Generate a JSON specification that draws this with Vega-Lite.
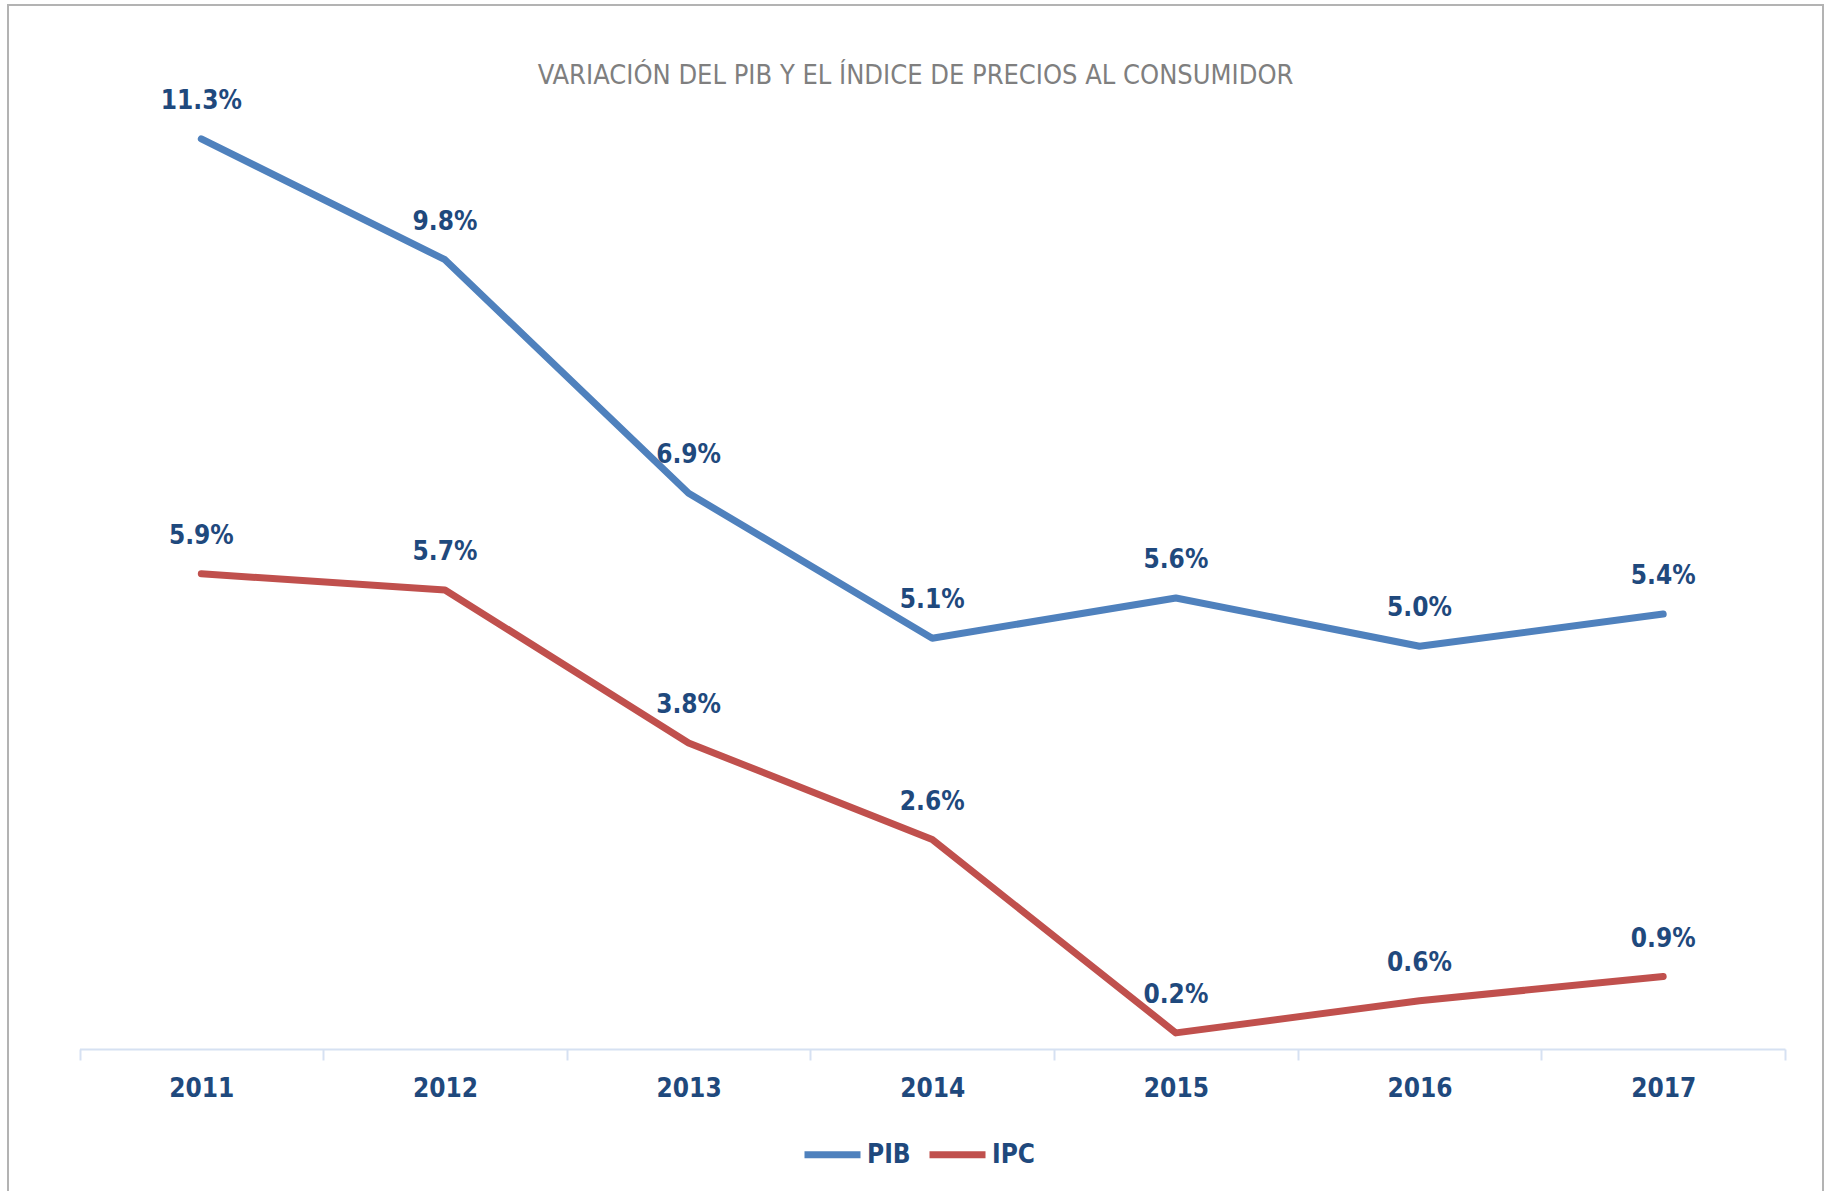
{
  "$schema": "https://vega.github.io/schema/vega-lite/v6.json",
  "autosize": {"type": "none"},
  "width": 1815,
  "height": 1200,
  "padding": {"left": 8, "top": 5, "right": 10, "bottom": 0},
  "background": "white",
  "config": {
    "view": {"stroke": "#B3B3B3", "strokeWidth": 2},
    "font": "DejaVu Sans Condensed, sans-serif"
  },
  "title": {
    "text": "VARIACIÓN DEL PIB Y EL ÍNDICE DE PRECIOS AL CONSUMIDOR",
    "font": "DejaVu Sans Condensed, sans-serif",
    "fontSize": 27,
    "fontWeight": "normal",
    "color": "#7F7F7F",
    "anchor": "middle",
    "frame": "group",
    "offset": -85
  },
  "data": {
    "values": [
      {"year": "2011", "serie": "PIB", "value": 0.113},
      {"year": "2012", "serie": "PIB", "value": 0.098},
      {"year": "2013", "serie": "PIB", "value": 0.069},
      {"year": "2014", "serie": "PIB", "value": 0.051},
      {"year": "2015", "serie": "PIB", "value": 0.056},
      {"year": "2016", "serie": "PIB", "value": 0.050},
      {"year": "2017", "serie": "PIB", "value": 0.054},
      {"year": "2011", "serie": "IPC", "value": 0.059},
      {"year": "2012", "serie": "IPC", "value": 0.057},
      {"year": "2013", "serie": "IPC", "value": 0.038},
      {"year": "2014", "serie": "IPC", "value": 0.026},
      {"year": "2015", "serie": "IPC", "value": 0.002},
      {"year": "2016", "serie": "IPC", "value": 0.006},
      {"year": "2017", "serie": "IPC", "value": 0.009}
    ]
  },
  "encoding": {
    "x": {
      "field": "year",
      "type": "ordinal",
      "scale": {"type": "band", "range": [71.5, 1777], "paddingInner": 0, "paddingOuter": 0},
      "axis": {
        "title": null,
        "offset": -156,
        "labelAngle": 0,
        "labelFontSize": 26,
        "labelFontWeight": "bold",
        "labelColor": "#1F497D",
        "labelPadding": 15,
        "domainColor": "#D6E1F2",
        "domainWidth": 2,
        "tickColor": "#D6E1F2",
        "tickWidth": 2,
        "tickSize": 11,
        "tickBand": "extent",
        "grid": false
      }
    },
    "y": {
      "field": "value",
      "type": "quantitative",
      "scale": {"domain": [0, 0.12], "range": [1044, 77.5], "nice": false, "zero": true},
      "axis": null
    }
  },
  "layer": [
    {
      "mark": {"type": "line", "strokeWidth": 7, "strokeCap": "round", "strokeJoin": "round"},
      "encoding": {
        "color": {
          "field": "serie",
          "type": "nominal",
          "scale": {"domain": ["PIB", "IPC"], "range": ["#4F81BD", "#C0504D"]},
          "legend": {
            "title": null,
            "orient": "none",
            "direction": "horizontal",
            "legendX": 793,
            "legendY": 1118,
            "symbolType": "stroke",
            "symbolStrokeWidth": 7,
            "symbolSize": 3136,
            "labelFontSize": 26,
            "labelFontWeight": "bold",
            "labelColor": "#1F497D",
            "labelOffset": 3,
            "columnPadding": 4
          }
        }
      }
    },
    {
      "mark": {"type": "text", "dy": -38, "fontSize": 26, "fontWeight": "bold", "color": "#1F497D"},
      "encoding": {
        "text": {"field": "value", "type": "quantitative", "format": ".1%"}
      }
    }
  ]
}
